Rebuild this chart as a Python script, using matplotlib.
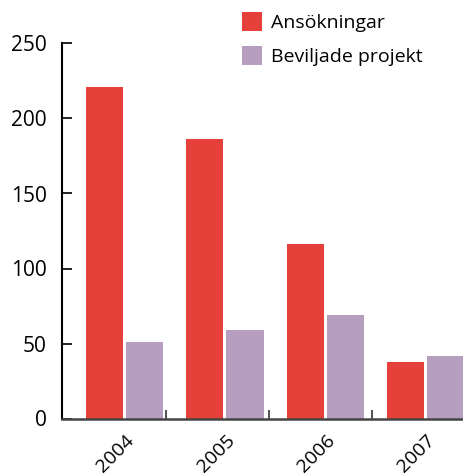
import matplotlib
matplotlib.use("Agg")
import matplotlib.pyplot as plt
import matplotlib.transforms as mtransforms
import numpy as np

years = ["2004", "2005", "2006", "2007"]
ansokningar = [221, 186, 116, 38]
beviljade = [51, 59, 69, 42]

RED = "#E5403A"
PURPLE = "#B59EC0"

plt.rcParams["font.family"] = ["Open Sans", "DejaVu Sans"]

fig = plt.figure(figsize=(4.63, 4.75), dpi=100)
ax = fig.add_axes([62 / 463, 56.5 / 475, 1 - 62 / 463, 375 / 475])

x = np.arange(len(years))
width = 0.37
ax.bar(x - 0.2, ansokningar, width, color=RED, label="Ansökningar", zorder=2)
ax.bar(x + 0.2, beviljade, width, color=PURPLE, label="Beviljade projekt", zorder=2)

ax.set_xlim(-0.624, 3.374)
ax.set_ylim(0, 250)

for side in ["top", "right"]:
    ax.spines[side].set_visible(False)
ax.spines["left"].set_linewidth(1.5)
ax.spines["left"].set_color("black")
ax.spines["bottom"].set_linewidth(1.8)
ax.spines["bottom"].set_color("#444444")
ax.spines["bottom"].set_zorder(3)

ax.set_yticks([0, 50, 100, 150, 200, 250])
ax.tick_params(axis="y", direction="in", length=7.2, width=1.2, pad=11,
               labelsize=15, colors="black")

ax.set_xticks(x)
ax.set_xticklabels(years, rotation=45, ha="center", va="top", fontsize=14)
ax.tick_params(axis="x", which="major", length=0, pad=9)
ax.set_xticks([0.41, 1.44, 2.47], minor=True)
ax.tick_params(axis="x", which="minor", direction="in", length=6.5, width=1.2,
               color="#333333")
offset = mtransforms.ScaledTranslation(-9 / 100, 0, fig.dpi_scale_trans)
for lbl in ax.get_xticklabels():
    lbl.set_transform(lbl.get_transform() + offset)

fig.legend(loc="upper left", bbox_to_anchor=(242 / 463, 1 - 12 / 475),
           frameon=False, fontsize=14, handlelength=1.05, handleheight=1.15,
           handletextpad=0.45, labelspacing=0.7, borderpad=0, borderaxespad=0)

fig.savefig("out.png", dpi=100)
